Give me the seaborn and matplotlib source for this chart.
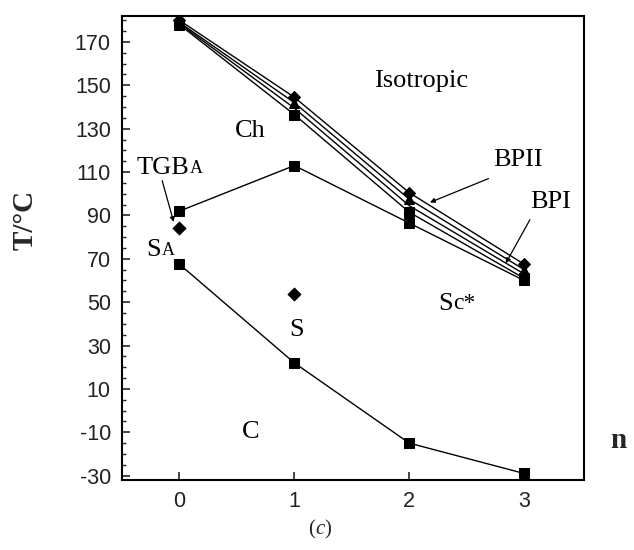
import matplotlib
matplotlib.use("Agg")
import matplotlib.pyplot as plt
from matplotlib.ticker import MultipleLocator
import seaborn as sns
import pandas as pd

n_vals = [0, 1, 2, 3]
iso_T = [180, 144.5, 100.5, 67.5]      # diamonds
bp2_T = [179, 142, 97.5, 65]           # triangles
bp1_T = [178.5, 139.5, 94.5, 63]
ch_T = [178, 136.5, 91.5, 61]          # squares
tgb_T = [92, 113, 86.5, 60]            # squares
cryst_T = [67.5, 22, -15, -29]         # squares
sa_n = [0, 1]
sa_T = [84, 54]                        # isolated diamonds

y_ticks = [-30, -10, 10, 30, 50, 70, 90, 110, 130, 150, 170]
x_ticks = [0, 1, 2, 3]

sns.set_style("ticks")
plt.rcParams["axes.unicode_minus"] = False
serif = "Liberation Serif"
sans = "Liberation Sans"

fig = plt.figure(figsize=(6.34, 5.5), dpi=100)
ax = fig.add_axes([0.1924, 0.1273, 0.7286, 0.8437])

def draw(y, marker, ms):
    df = pd.DataFrame({"n": n_vals, "T": y})
    sns.lineplot(data=df, x="n", y="T", ax=ax, color="black", lw=1.0,
                 marker=marker, markersize=ms, markeredgecolor="black",
                 markerfacecolor="black", estimator=None, sort=False)

draw(iso_T, "D", 6.5)
draw(bp2_T, "^", 6.5)
draw(bp1_T, None, 0)
draw(ch_T, "s", 7.5)
draw(tgb_T, "s", 7.5)
draw(cryst_T, "s", 7.5)
sns.scatterplot(x=sa_n, y=sa_T, ax=ax, marker="D", s=45, color="black",
                edgecolor="black")

ax.set_xlim(-0.5, 3.52)
ax.set_ylim(-32, 182)
ax.set_xticks(x_ticks)
ax.set_yticks(y_ticks)
ax.yaxis.set_minor_locator(MultipleLocator(5))
ax.tick_params(axis="both", which="major", direction="in", length=6, width=1.2,
               labelsize=15.5, pad=8, labelcolor="#222222")
ax.tick_params(axis="y", which="minor", direction="in", length=3, width=1)
ax.tick_params(axis="x", top=False)
ax.tick_params(axis="y", right=False)
for lab in ax.get_xticklabels() + ax.get_yticklabels():
    lab.set_fontfamily(sans)
for s in ax.spines.values():
    s.set_visible(True)
    s.set_linewidth(1.5)
    s.set_color("black")
ax.set_xlabel("")
ax.set_ylabel("")

fig.text(0.040, 0.60, "T/°C", rotation=90, ha="center", va="center",
         fontsize=21, fontweight="bold", family=serif)
fig.text(0.975, 0.20, "n", ha="center", va="center", fontsize=21,
         fontweight="bold", family=serif)
fig.text(0.497, 0.037, "(", ha="right", va="center", fontsize=15, family=serif)
fig.text(0.497, 0.037, "c", ha="left", va="center", fontsize=15, family=serif,
         style="italic")
fig.text(0.512, 0.037, ")", ha="left", va="center", fontsize=15, family=serif)

BIG = 19
SMALL = 13
tk = dict(fontsize=BIG, family=serif, color="black")
ax.text(2.1, 152, "Isotropic", ha="center", va="center", **tk)
ax.text(0.62, 129, "Ch", ha="center", va="center", **tk)
ax.text(1.02, 37, "S", ha="center", va="center", **tk)
ax.text(0.62, -10, "C", ha="center", va="center", **tk)


def sc_text(x, y, big, small, size=SMALL):
    t = ax.text(x, y, big, ha="left", va="bottom", **tk)
    ax.annotate(small, xy=(1, 0), xycoords=t, ha="left", va="bottom",
                xytext=(0.5, 1.2), textcoords="offset points",
                fontsize=size, family=serif, color="black")


sc_text(-0.373, 107, "TGB", "A")
sc_text(-0.29, 69, "S", "A")
sc_text(2.25, 44, "S", "c*", size=17)

ax.text(2.73, 115.5, "BPII", ha="left", va="center", **tk)
ax.text(3.05, 96, "BPI", ha="left", va="center", **tk)

arr = dict(arrowstyle="-|>", color="black", lw=0.9, mutation_scale=7,
           shrinkA=0, shrinkB=0)
ax.annotate("", xy=(-0.05, 87), xytext=(-0.15, 106), arrowprops=arr)
ax.annotate("", xy=(2.18, 96), xytext=(2.69, 107), arrowprops=arr)
ax.annotate("", xy=(2.84, 68), xytext=(3.05, 88), arrowprops=arr)

fig.savefig("out.png", dpi=100)
